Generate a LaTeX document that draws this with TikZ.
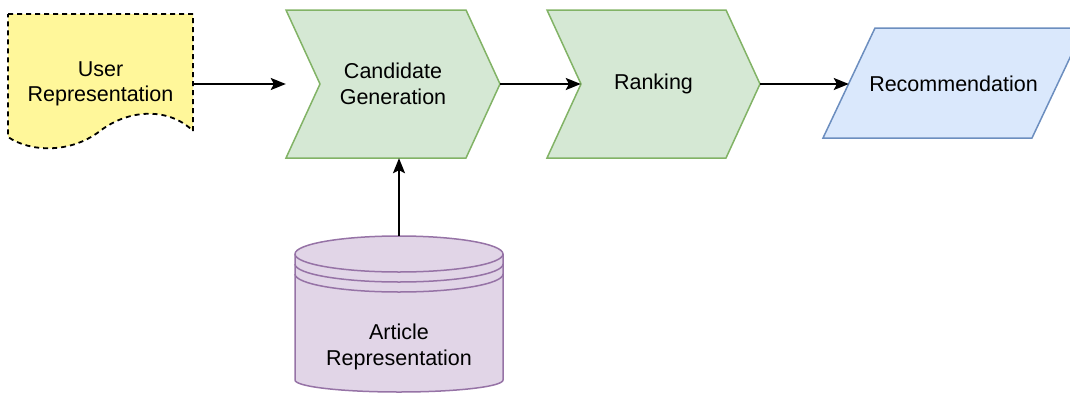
\documentclass[tikz,border=0pt]{standalone}
\usepackage{fontspec}
\setmainfont{Liberation Sans}
\usetikzlibrary{arrows.meta}

\definecolor{notefill}{HTML}{FFF79A}
\definecolor{stepfill}{HTML}{D5E8D4}
\definecolor{stepline}{HTML}{82B366}
\definecolor{outfill}{HTML}{DAE8FC}
\definecolor{outline}{HTML}{6C8EBF}
\definecolor{dbfill}{HTML}{E1D5E7}
\definecolor{dbline}{HTML}{9673A6}

\begin{document}
\begin{tikzpicture}[x=1pt,y=-1pt,
    >={Stealth[length=15pt,width=12pt,inset=3pt]},
    box/.style={inner sep=0pt,align=center,font=\fontsize{21.5}{25.5}\selectfont},
    link/.style={->,line width=1.8pt}]
  \useasboundingbox (0,0) rectangle (1070,394);
  % shapes
  \filldraw[fill=notefill,draw=black,line width=1.8pt,dash pattern=on 5pt off 4pt]
    (8,14) -- (193,14) -- (193,131) .. controls (170,108) and (130,108) .. (100,131)
    .. controls (70,154) and (30,152) .. (8,137) -- cycle;
  \filldraw[fill=stepfill,draw=stepline,line width=1.5pt]
    (286,10) -- (466,10) -- (500,84) -- (466,158) -- (286,158) -- (320,84) -- cycle;
  \filldraw[fill=stepfill,draw=stepline,line width=1.5pt]
    (547,10) -- (726,10) -- (760,84) -- (726,158) -- (547,158) -- (581,84) -- cycle;
  \filldraw[fill=outfill,draw=outline,line width=1.5pt]
    (875,28) -- (1084,28) -- (1032,138) -- (823,138) -- cycle;
  \filldraw[fill=dbfill,draw=dbline,line width=1.5pt]
    (295,254) -- (295,380) arc[start angle=180,end angle=0,x radius=104,y radius=12]
    -- (503,254) arc[start angle=0,end angle=-180,x radius=104,y radius=18] -- cycle;
  \foreach \y in {254,264,274}{
    \draw[dbline,line width=1.5pt] (295,\y) arc[start angle=180,end angle=0,x radius=104,y radius=18];}
  % labels
  \node[box,minimum width=185pt,minimum height=140pt] (user) at (100.5,84) {User\\Representation};
  \node[box,minimum width=214pt,minimum height=148pt] (cand) at (393,84) {Candidate\\Generation};
  \node[box,minimum width=213pt,minimum height=148pt] (rank) at (653.5,84) {Ranking};
  \node[box,minimum width=209pt,minimum height=110pt] (rec) at (953.5,84) {Recommendation};
  \node[box] (art) at (399,347) {Article\\Representation};
  \coordinate (db) at (399,236);
  % flow
  \draw[link] (user.east) -- (cand.west);
  \draw[link] (cand.east) -- ([xshift=34pt]rank.west);
  \draw[link] (rank.east) -- (rec.west);
  \draw[link] (db) -- (db |- cand.south);
\end{tikzpicture}
\end{document}
